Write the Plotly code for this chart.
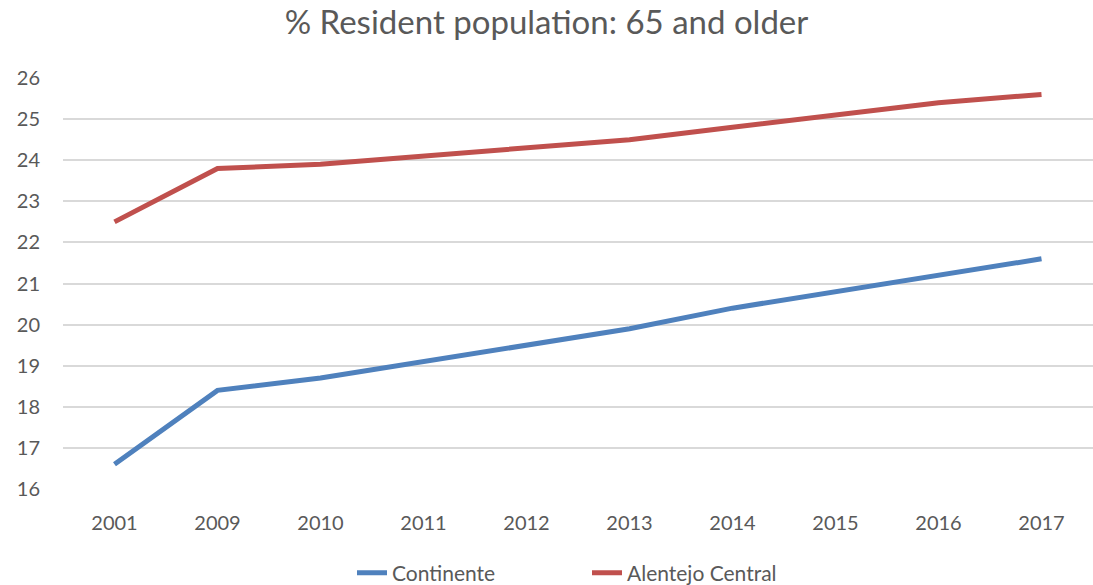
import plotly.graph_objects as go

years = ["2001", "2009", "2010", "2011", "2012", "2013", "2014", "2015", "2016", "2017"]
continente = [16.6, 18.4, 18.7, 19.1, 19.5, 19.9, 20.4, 20.8, 21.2, 21.6]
alentejo = [22.5, 23.8, 23.9, 24.1, 24.3, 24.5, 24.8, 25.1, 25.4, 25.6]

fig = go.Figure()
fig.add_trace(go.Scatter(x=years, y=continente, mode="lines", name="Continente",
                         line=dict(color="#4F81BD", width=5)))
fig.add_trace(go.Scatter(x=years, y=alentejo, mode="lines", name="Alentejo Central",
                         line=dict(color="#C0504D", width=5)))

font_family = "Lato, Liberation Sans, sans-serif"
fig.update_layout(
    width=1093, height=585,
    margin=dict(l=63, r=0, t=78, b=96),
    paper_bgcolor="white", plot_bgcolor="white",
    font=dict(family=font_family, color="#595959", size=20),
    title=dict(text="% Resident population: 65 and older", x=0.5, xanchor="center",
               y=1 - 22 / 585, yanchor="middle", font=dict(size=33, color="#595959")),
    showlegend=True,
    legend=dict(orientation="h", x=(352 - 63) / 1030, xanchor="left", yref="container",
                y=1 - 573 / 585, yanchor="middle", font=dict(size=21, color="#595959"),
                entrywidth=190, entrywidthmode="pixels", tracegroupgap=0),
    xaxis=dict(type="category", range=[-0.5, 9.5], showgrid=False, showline=False,
               zeroline=False, ticks="", ticklabelstandoff=20, tickfont=dict(size=20)),
    yaxis=dict(range=[16, 26], dtick=1, showgrid=True, gridcolor="#D9D9D9", gridwidth=1.5,
               zeroline=False, showline=False, ticks="", ticklabelstandoff=22,
               tickfont=dict(size=20)),
)
fig.write_html("out.html")
